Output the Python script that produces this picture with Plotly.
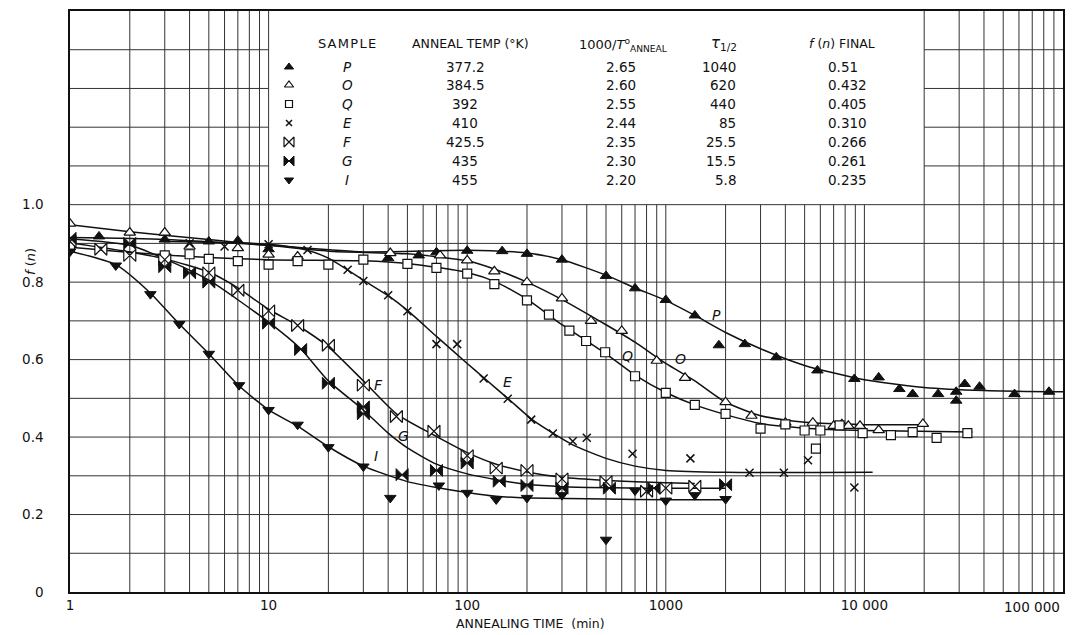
import plotly.graph_objects as go
import math

# ---------------- data ----------------
P_t = [1.4, 3, 5, 7, 10, 40, 57, 70, 100, 150, 200, 300, 500, 700, 1000, 1400, 1850, 2500,
       3600, 5800, 8900, 11800, 15000, 17500, 23500, 29000, 29000, 32000, 38000, 57000, 85000]
P_f = [0.918, 0.91, 0.905, 0.907, 0.885, 0.862, 0.869, 0.877, 0.881, 0.880, 0.873, 0.858, 0.816,
       0.784, 0.754, 0.714, 0.637, 0.64, 0.606, 0.572, 0.55, 0.554, 0.524, 0.511, 0.511, 0.517,
       0.494, 0.537, 0.53, 0.511, 0.517]

O_t = [1, 2, 3, 4, 7, 10, 14, 41, 73, 100, 137, 200, 300, 420, 600, 900, 1250, 2000, 2700,
       4000, 5500, 7000, 7700, 8300, 9500, 11800, 19700]
O_f = [0.951, 0.928, 0.928, 0.892, 0.888, 0.871, 0.866, 0.875, 0.869, 0.856, 0.828, 0.80, 0.758,
       0.70, 0.674, 0.597, 0.553, 0.49, 0.455, 0.437, 0.437, 0.429, 0.433, 0.429, 0.429, 0.418, 0.434]

Q_t = [1, 3, 4, 5, 7, 10, 14, 20, 30, 50, 70, 100, 137, 200, 258, 327, 397, 495, 700, 1000,
       1400, 2000, 3000, 4000, 5000, 5700, 6000, 7500, 9800, 13600, 17500, 23100, 33000]
Q_f = [0.89, 0.869, 0.872, 0.86, 0.854, 0.845, 0.854, 0.845, 0.858, 0.847, 0.837, 0.822, 0.795,
       0.753, 0.716, 0.675, 0.648, 0.619, 0.557, 0.514, 0.483, 0.46, 0.422, 0.433, 0.417, 0.37,
       0.417, 0.43, 0.41, 0.405, 0.413, 0.398, 0.41]

E_t = [4, 6, 10, 15.7, 25, 30, 40, 50, 70, 89, 121, 160, 210, 270, 340, 400, 680, 1330, 2640,
       3930, 5200, 8900]
E_f = [0.90, 0.892, 0.898, 0.883, 0.832, 0.803, 0.766, 0.725, 0.64, 0.64, 0.551, 0.499, 0.445,
       0.409, 0.389, 0.398, 0.357, 0.345, 0.308, 0.308, 0.34, 0.27]

F_t = [1, 1.43, 2, 3, 5, 7, 10, 14, 20, 30, 44, 68, 100, 140, 200, 300, 500, 800, 1000, 1400]
F_f = [0.905, 0.885, 0.869, 0.858, 0.824, 0.779, 0.726, 0.688, 0.637, 0.534, 0.453, 0.415, 0.352,
       0.32, 0.314, 0.292, 0.285, 0.26, 0.268, 0.273]

G_t = [1, 2, 3, 4, 5, 10, 14.5, 20, 30, 30, 47, 70, 100, 145, 200, 300, 520, 870, 2000]
G_f = [0.913, 0.9, 0.84, 0.824, 0.80, 0.694, 0.626, 0.539, 0.478, 0.460, 0.303, 0.314, 0.333,
       0.286, 0.275, 0.268, 0.268, 0.268, 0.277]

I_t = [1, 1.7, 2.54, 3.55, 5, 7.1, 10, 14, 20, 30, 41, 72, 100, 140, 200, 300, 500, 700, 1000,
       1400, 2000]
I_f = [0.879, 0.843, 0.769, 0.692, 0.615, 0.534, 0.47, 0.432, 0.374, 0.324, 0.243, 0.275, 0.256,
       0.239, 0.243, 0.25, 0.135, 0.262, 0.236, 0.25, 0.24]

# hand-drawn fitted curves
P_curve_t = [1, 3, 10, 30, 100, 200, 300, 500, 700, 1000, 1400, 2000, 3000, 5000, 10000, 20000, 40000, 100000]
P_curve_f = [0.915, 0.91, 0.895, 0.878, 0.882, 0.875, 0.858, 0.818, 0.785, 0.753, 0.714, 0.67, 0.628,
             0.585, 0.548, 0.528, 0.52, 0.517]
O_curve_t = [1, 2, 5, 10, 20, 50, 100, 140, 200, 300, 500, 700, 1000, 1400, 2000, 3000, 5000, 10000, 20000]
O_curve_f = [0.948, 0.93, 0.91, 0.895, 0.88, 0.873, 0.855, 0.832, 0.80, 0.755, 0.69, 0.645, 0.59, 0.545,
             0.49, 0.455, 0.438, 0.432, 0.432]
Q_curve_t = [1, 3, 10, 30, 50, 100, 140, 200, 300, 500, 700, 1000, 1400, 2000, 3000, 5000, 10000, 35000]
Q_curve_f = [0.89, 0.87, 0.858, 0.855, 0.848, 0.825, 0.80, 0.756, 0.69, 0.615, 0.56, 0.515, 0.483, 0.458,
             0.435, 0.423, 0.417, 0.413]
E_curve_t = [3, 10, 15, 20, 30, 40, 50, 70, 100, 120, 160, 210, 270, 340, 500, 700, 1000, 2000, 11000]
E_curve_f = [0.905, 0.898, 0.885, 0.862, 0.805, 0.765, 0.727, 0.66, 0.59, 0.555, 0.5, 0.447, 0.41, 0.38,
             0.345, 0.325, 0.314, 0.309, 0.309]
F_curve_t = [1, 2, 3, 5, 7, 10, 14, 20, 30, 44, 68, 100, 140, 200, 300, 500, 1000, 1400]
F_curve_f = [0.902, 0.878, 0.86, 0.826, 0.785, 0.73, 0.688, 0.633, 0.545, 0.46, 0.405, 0.36, 0.33, 0.31,
             0.296, 0.288, 0.282, 0.28]
G_curve_t = [1, 2, 3, 5, 10, 14.5, 20, 30, 40, 50, 70, 100, 140, 200, 300, 1000, 2000]
G_curve_f = [0.912, 0.895, 0.86, 0.805, 0.697, 0.628, 0.545, 0.47, 0.41, 0.372, 0.33, 0.305, 0.29, 0.278,
             0.272, 0.268, 0.268]
I_curve_t = [1, 1.7, 2.5, 3.5, 5, 7, 10, 14, 20, 30, 50, 70, 100, 140, 200, 500, 1000, 2000]
I_curve_f = [0.88, 0.845, 0.775, 0.695, 0.615, 0.535, 0.47, 0.428, 0.375, 0.325, 0.285, 0.27, 0.257, 0.247,
             0.243, 0.24, 0.238, 0.238]

samples = ["P", "O", "Q", "E", "F", "G", "I"]
anneal_temp = ["377.2", "384.5", "392", "410", "425.5", "435", "455"]
inv_temp = ["2.65", "2.60", "2.55", "2.44", "2.35", "2.30", "2.20"]
tau_half = ["1040", "620", "440", "85", "25.5", "15.5", "5.8"]
f_final = ["0.51", "0.432", "0.405", "0.310", "0.266", "0.261", "0.235"]

# curve label positions (t, f) - label centres
label_pos = {"P": (1810, 0.714), "O": (1190, 0.602), "Q": (638, 0.61), "E": (160, 0.542),
             "F": (35.6, 0.534), "G": (48, 0.403), "I": (34.7, 0.352)}

x_ticks = [1, 10, 100, 1000, 10000]
x_tick_text = ["1", "10", "100", "1000", "10 000"]
x_last_label = "100 000"
y_ticks = [0, 0.2, 0.4, 0.6, 0.8, 1.0]
y_tick_text = ["0", "0.2", "0.4", "0.6", "0.8", "1.0"]

# ---------------- geometry / styling ----------------
PAGE_OFF = 8                      # default body margin of the html page
W, H = 1080, 627
ML, MR, MT, MB = 62, 25, 3, 43
PW, PH = W - ML - MR, H - MT - MB
FONT = "DejaVu Sans"
INK = "#111111"
GRID = "#333333"
X_DECADES = 5
Y_MAX = 1.5
TABLE_T0, TABLE_T1, TABLE_F0 = 10, 20000, 1.0


def px2paper_x(px):
    return (px - PAGE_OFF - ML) / PW


def py2paper_y(py):
    return (H - MB - (py - PAGE_OFF)) / PH


def t2paper(t):
    return math.log10(t) / X_DECADES


def f2paper(f):
    return f / Y_MAX


def px2t(px):
    return 10 ** (X_DECADES * px2paper_x(px))


def py2f(py):
    return Y_MAX * py2paper_y(py)


styles = {
    "P": dict(symbol="triangle-up", color=INK, size=10, line=dict(color=INK, width=1)),
    "O": dict(symbol="triangle-up", color="white", size=10, line=dict(color=INK, width=1.2)),
    "Q": dict(symbol="square", color="white", size=9, line=dict(color=INK, width=1.2)),
    "E": dict(symbol="x-thin", color=INK, size=8, line=dict(color=INK, width=1.5)),
    "F": dict(symbol="bowtie", color="white", size=12, line=dict(color=INK, width=1.2)),
    "G": dict(symbol="bowtie", color=INK, size=12, line=dict(color=INK, width=1)),
    "I": dict(symbol="triangle-down", color=INK, size=10, line=dict(color=INK, width=1)),
}

series = {
    "P": (P_t, P_f, P_curve_t, P_curve_f),
    "O": (O_t, O_f, O_curve_t, O_curve_f),
    "Q": (Q_t, Q_f, Q_curve_t, Q_curve_f),
    "E": (E_t, E_f, E_curve_t, E_curve_f),
    "F": (F_t, F_f, F_curve_t, F_curve_f),
    "G": (G_t, G_f, G_curve_t, G_curve_f),
    "I": (I_t, I_f, I_curve_t, I_curve_f),
}

fig = go.Figure()

for s, (t, f, ct, cf) in series.items():
    fig.add_trace(go.Scatter(x=ct, y=cf, mode="lines",
                             line=dict(color=INK, width=1.5, shape="spline", smoothing=0.6),
                             hoverinfo="skip", showlegend=False))
for s, (t, f, ct, cf) in series.items():
    fig.add_trace(go.Scatter(x=t, y=f, mode="markers", marker=styles[s], name=s, showlegend=False))

# table layout (page pixels)
row_y = [67, 85, 104, 123, 142, 161, 180]
header_y = 43
col_sym, col_sample, col_temp, col_inv, col_tau, col_final = 289, 347, 465, 621, 738, 826

for i, s in enumerate(samples):
    mk = dict(styles[s])
    mk["size"] = styles[s]["size"] - 2
    fig.add_trace(go.Scatter(x=[px2t(col_sym)], y=[py2f(row_y[i])], mode="markers",
                             marker=mk, showlegend=False, hoverinfo="skip"))

ann = []


def txt(px, py, text, size=12, xanchor="center", italic=False):
    if italic:
        text = "<i>" + text + "</i>"
    ann.append(dict(x=px2paper_x(px), y=py2paper_y(py), xref="paper", yref="paper", text=text,
                    showarrow=False, xanchor=xanchor, yanchor="middle",
                    font=dict(family=FONT, size=size, color=INK)))


txt(col_sample, header_y, "S A M P L E".replace(" ", "\u200a"), 13)
txt(470, header_y, "ANNEAL TEMP (°K)", 12.5)
txt(623, header_y + 2, "1000/<i>T</i><sup>o</sup><sub>ANNEAL</sub>", 13)
txt(724, header_y, "<i>τ</i><sub>1/2</sub>", 15)
txt(842, header_y, "<i>f</i> (<i>n</i>) FINAL", 12.5)
for i, s in enumerate(samples):
    y = row_y[i]
    txt(col_sample, y, s, 13.5, italic=True)
    txt(col_temp, y, anneal_temp[i], 13.5)
    txt(col_inv, y, inv_temp[i], 13.5)
    txt(col_tau, y, tau_half[i], 13.5, xanchor="right")
    txt(col_final, y, f_final[i], 13.5, xanchor="left")

for s, (t, f) in label_pos.items():
    ann.append(dict(x=t2paper(t), y=f2paper(f), xref="paper", yref="paper", text="<i>" + s + "</i>",
                    showarrow=False, xanchor="center", yanchor="middle",
                    font=dict(family=FONT, size=14, color=INK)))

txt(30, 262, "<i>f</i> (<i>n</i>)", 13)
ann[-1]["textangle"] = -90
txt(530, 623, "ANNEALING TIME  (min)", 12.5)
txt(1062, 607, x_last_label, 13.5, xanchor="right")

# grid drawn as shapes so the table area stays clear
shapes = []
gl = dict(color=GRID, width=1)
for k in range(X_DECADES):
    for m in range(1, 10):
        t = m * 10 ** k
        if t == 1:
            continue
        top = TABLE_F0 if TABLE_T0 < t < TABLE_T1 else Y_MAX
        shapes.append(dict(type="line", xref="paper", yref="paper", x0=t2paper(t), x1=t2paper(t),
                           y0=0, y1=f2paper(top), line=gl, layer="below"))
for j in range(1, 15):
    f = j / 10
    if f <= TABLE_F0 + 1e-9:
        segs = [(0, 1)]
    else:
        segs = [(0, t2paper(TABLE_T0)), (t2paper(TABLE_T1), 1)]
    for a, b in segs:
        shapes.append(dict(type="line", xref="paper", yref="paper", x0=a, x1=b,
                           y0=f2paper(f), y1=f2paper(f), line=gl, layer="below"))

fig.update_layout(
    width=W, height=H, margin=dict(l=ML, r=MR, t=MT, b=MB, autoexpand=False),
    paper_bgcolor="white", plot_bgcolor="white",
    annotations=ann, shapes=shapes,
    xaxis=dict(type="log", range=[0, X_DECADES], tickvals=x_ticks, ticktext=x_tick_text,
               showgrid=False, zeroline=False, showline=True, linecolor=INK, linewidth=1.5,
               mirror=True, ticks="", tickfont=dict(family=FONT, size=13.5, color=INK)),
    yaxis=dict(range=[0, Y_MAX], tickvals=y_ticks, ticktext=y_tick_text, showgrid=False,
               zeroline=False, showline=True, linecolor=INK, linewidth=1.5, mirror=True,
               ticks="", ticklabelstandoff=22, tickfont=dict(family=FONT, size=13.5, color=INK)),
    font=dict(family=FONT, color=INK),
)

fig.write_html("out.html")
